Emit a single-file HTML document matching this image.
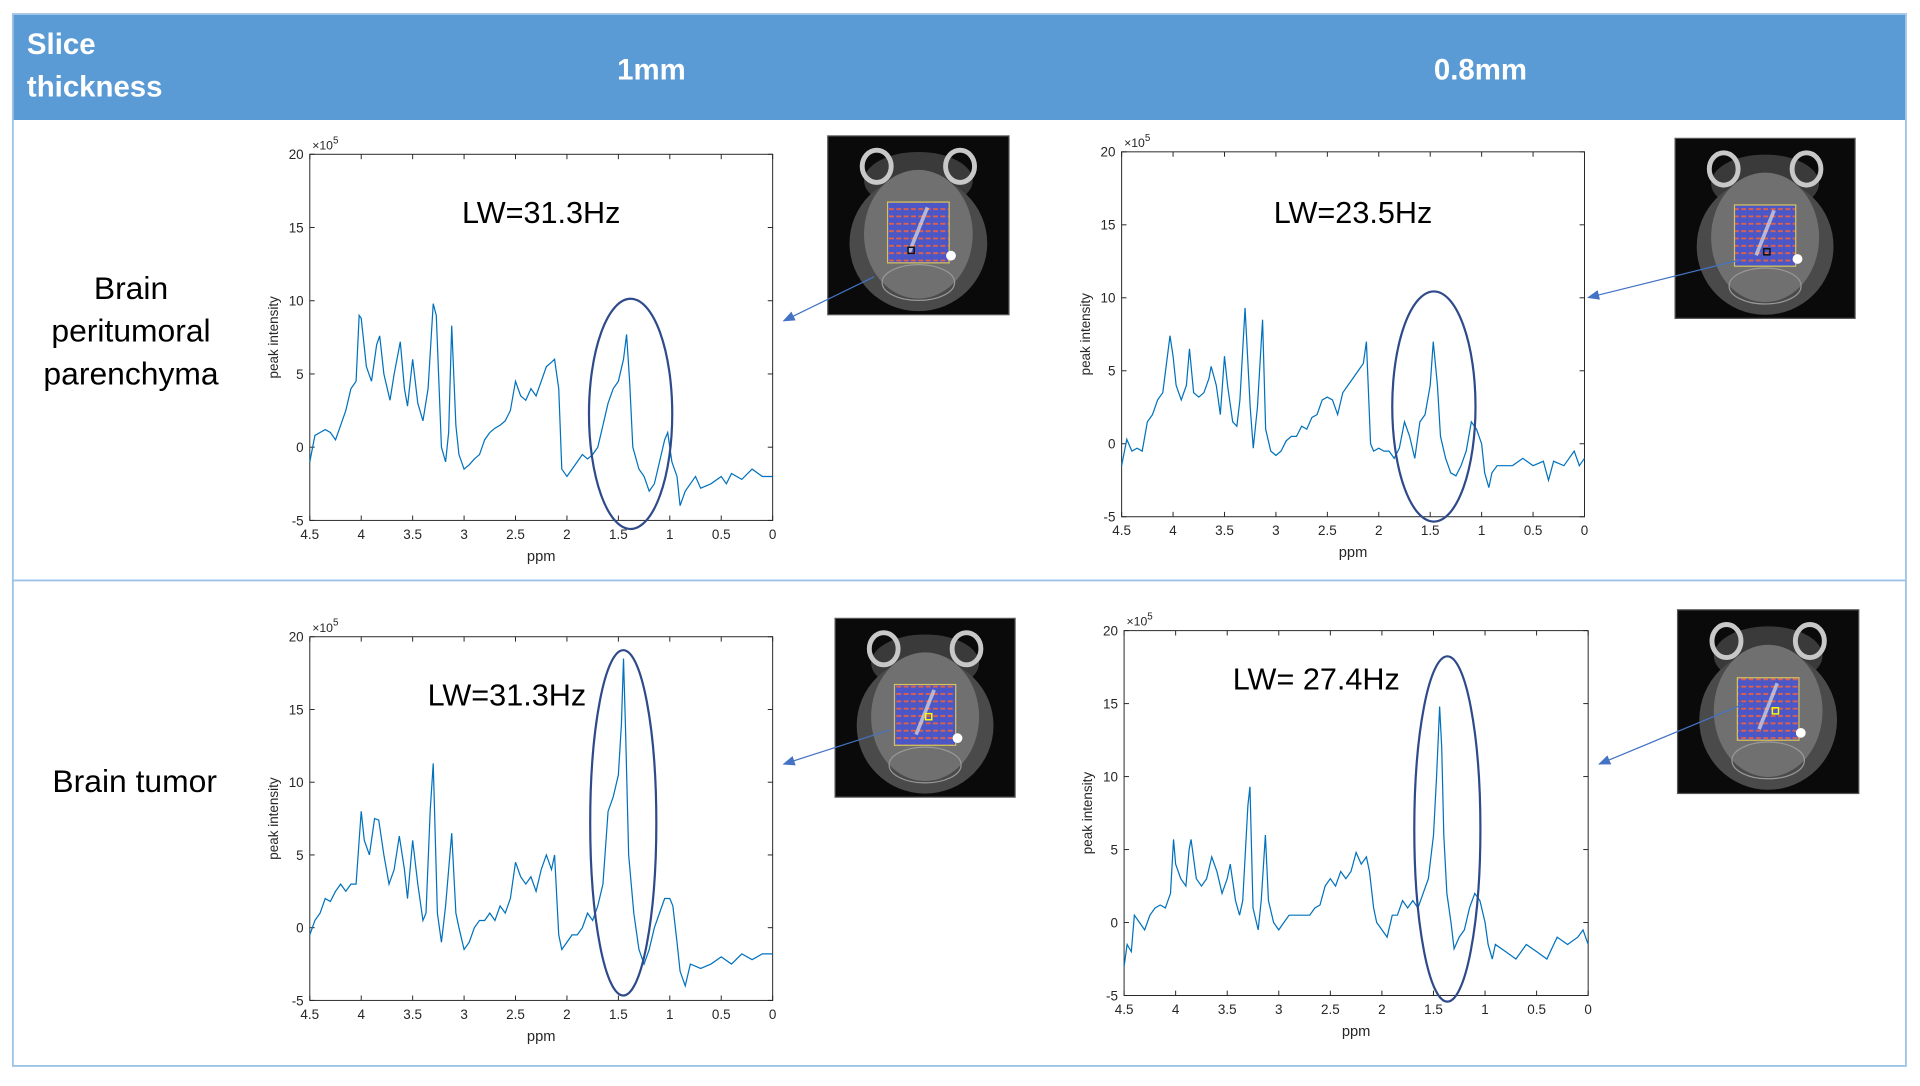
<!DOCTYPE html>
<html><head><meta charset="utf-8">
<style>
html,body{margin:0;padding:0;background:#fff;}
body{width:1920px;height:1080px;overflow:hidden;position:relative;font-family:"Liberation Sans",sans-serif;}
#wrap{position:absolute;left:0;top:0;width:1568px;height:882px;transform:scale(1.22449,1.2245);transform-origin:0 0;}
</style></head>
<body>
<div id="wrap">
<svg id="svg" width="1568" height="882" viewBox="0 0 1568 882" xmlns="http://www.w3.org/2000/svg">
<defs>
<pattern id="grid" width="6" height="6" patternUnits="userSpaceOnUse">
<rect width="6" height="6" fill="#4b57c6"/>
<rect x="0" y="2" width="4" height="1.5" fill="#e0604a"/>
</pattern>
<marker id="arr" markerWidth="10" markerHeight="8" refX="9" refY="4" orient="auto" markerUnits="userSpaceOnUse">
<path d="M0,0 L10,4 L0,8 z" fill="#4472c4"/>
</marker>
</defs>
<rect x="10" y="11" width="1547" height="87" fill="#5b9bd5"/>
<text x="22" y="44" fill="#fff" font-size="24" font-weight="bold" font-family="Liberation Sans, sans-serif">Slice</text>
<text x="22" y="79" fill="#fff" font-size="24" font-weight="bold" font-family="Liberation Sans, sans-serif">thickness</text>
<text x="532" y="65" fill="#fff" font-size="24" font-weight="bold" text-anchor="middle" font-family="Liberation Sans, sans-serif">1mm</text>
<text x="1209" y="65" fill="#fff" font-size="24" font-weight="bold" text-anchor="middle" font-family="Liberation Sans, sans-serif">0.8mm</text>
<rect x="10.5" y="11.5" width="1546" height="859" fill="none" stroke="#9dc3e6" stroke-width="1.5"/>
<line x1="10" y1="474" x2="1557" y2="474" stroke="#9dc3e6" stroke-width="1.5"/>
<g font-size="26" text-anchor="middle" fill="#000" font-family="Liberation Sans, sans-serif">
<text x="107" y="244">Brain</text>
<text x="107" y="279">peritumoral</text>
<text x="107" y="314">parenchyma</text>
<text x="110" y="647">Brain tumor</text>
</g>
<g id="charts"></g>
</svg>
</div>
<script>
const xTicks=[4.5,4,3.5,3,2.5,2,1.5,1,0.5,0];
const xTickLabels=["4.5","4","3.5","3","2.5","2","1.5","1","0.5","0"];
const yTicks=[-5,0,5,10,15,20];
const yTickLabels=["-5","0","5","10","15","20"];

const ppmA=[4.5,4.45,4.4,4.35,4.3,4.25,4.2,4.15,4.1,4.05,4.02,4.0,3.95,3.9,3.85,3.82,3.78,3.72,3.68,3.62,3.58,3.55,3.5,3.45,3.4,3.35,3.3,3.27,3.22,3.18,3.15,3.12,3.08,3.05,3.0,2.95,2.9,2.85,2.8,2.75,2.7,2.65,2.6,2.55,2.5,2.45,2.4,2.35,2.3,2.25,2.2,2.15,2.12,2.08,2.05,2.0,1.95,1.9,1.85,1.8,1.75,1.7,1.65,1.6,1.55,1.5,1.45,1.42,1.39,1.36,1.3,1.25,1.2,1.15,1.1,1.05,1.02,0.98,0.93,0.9,0.85,0.8,0.75,0.7,0.6,0.5,0.45,0.4,0.3,0.2,0.1,0.0];
const valA=[-1,0.8,1.0,1.2,1.0,0.5,1.5,2.5,4.0,4.5,9.0,8.8,5.5,4.5,7.0,7.6,5.0,3.2,5.0,7.2,4.0,2.8,6.0,3.0,1.8,4.0,9.8,9.0,0,-1.0,1.0,8.3,1.5,-0.5,-1.5,-1.2,-0.8,-0.5,0.5,1.0,1.3,1.5,1.8,2.5,4.5,3.5,3.2,4.0,3.5,4.5,5.5,5.8,6.0,4.0,-1.5,-2.0,-1.5,-1.0,-0.5,-0.8,-0.5,0,1.5,3.0,4.0,4.5,6.0,7.7,4.5,0,-1.5,-2.0,-3.0,-2.5,-1.0,0.5,1.0,-1.0,-2.0,-4.0,-3.0,-2.5,-2.0,-2.8,-2.5,-2.0,-2.5,-1.8,-2.2,-1.5,-2.0,-2.0];

const ppmB=[4.5,4.45,4.4,4.35,4.3,4.25,4.2,4.15,4.1,4.03,4.0,3.97,3.92,3.87,3.84,3.8,3.75,3.7,3.65,3.63,3.58,3.54,3.5,3.47,3.42,3.38,3.35,3.3,3.25,3.22,3.18,3.13,3.1,3.05,3.0,2.95,2.9,2.85,2.8,2.75,2.7,2.65,2.6,2.55,2.5,2.45,2.4,2.35,2.3,2.25,2.2,2.15,2.12,2.08,2.05,2.0,1.95,1.9,1.85,1.8,1.75,1.7,1.65,1.6,1.55,1.5,1.47,1.43,1.4,1.35,1.3,1.25,1.2,1.15,1.1,1.05,1.0,0.97,0.93,0.9,0.85,0.8,0.7,0.6,0.5,0.4,0.35,0.3,0.2,0.1,0.05,0];
const valB=[-1.5,0.3,-0.5,-0.3,-0.5,1.5,2.0,3.0,3.5,7.4,6.0,4.0,3.0,4.0,6.5,3.5,3.2,3.5,4.5,5.3,4.0,2.0,6.0,4.0,1.5,1.2,3.0,9.3,2.5,-0.3,2.5,8.5,1.0,-0.5,-0.8,-0.5,0.2,0.5,0.5,1.2,1.0,1.8,2.0,3.0,3.2,3.0,2.0,3.5,4.0,4.5,5.0,5.5,7.0,0,-0.5,-0.3,-0.5,-0.5,-1.0,-0.3,1.5,0.5,-1.0,1.5,2.0,4.0,7.0,4.0,0.5,-1.0,-2.0,-2.2,-1.5,-0.5,1.5,1.0,0,-2.0,-3.0,-2.0,-1.5,-1.5,-1.5,-1.0,-1.5,-1.2,-2.5,-1.2,-1.5,-0.5,-1.5,-1.0];

const ppmC=[4.5,4.45,4.4,4.35,4.3,4.25,4.2,4.15,4.1,4.05,4.02,4.0,3.97,3.92,3.87,3.83,3.78,3.73,3.68,3.63,3.58,3.55,3.5,3.45,3.4,3.37,3.33,3.3,3.26,3.22,3.18,3.12,3.08,3.05,3.0,2.95,2.9,2.85,2.8,2.75,2.7,2.65,2.6,2.55,2.5,2.45,2.4,2.35,2.3,2.25,2.2,2.15,2.12,2.08,2.05,2.0,1.95,1.9,1.85,1.8,1.75,1.7,1.65,1.6,1.55,1.5,1.47,1.45,1.43,1.4,1.35,1.3,1.25,1.2,1.15,1.1,1.05,1.0,0.97,0.93,0.9,0.85,0.8,0.7,0.6,0.5,0.4,0.3,0.2,0.1,0];
const valC=[-0.5,0.5,1.0,2.0,1.8,2.5,3.0,2.5,3.0,3.0,6.0,8.0,6.0,5.0,7.5,7.4,5.0,3.0,4.0,6.3,4.0,2.0,6.0,3.0,0.5,1.0,8.0,11.3,1.0,-1.0,1.5,6.5,1.0,0,-1.5,-1.0,0,0.5,0.5,1.0,0.5,1.5,1.0,2.0,4.5,3.5,3.0,3.5,2.5,4.0,5.0,4.0,5.0,-0.5,-1.5,-1.0,-0.5,-0.5,0,1.0,0.5,1.5,3.0,8.0,9.0,10.5,14.0,18.5,13.5,5.0,1.0,-1.5,-2.5,-1.5,0,1.0,2.0,2.0,1.5,-1.0,-3.0,-4.0,-2.5,-2.8,-2.5,-2.0,-2.5,-1.8,-2.2,-1.8,-1.8];

const ppmD=[4.5,4.47,4.43,4.4,4.35,4.3,4.25,4.2,4.15,4.1,4.05,4.02,4.0,3.95,3.9,3.87,3.85,3.8,3.75,3.7,3.65,3.6,3.55,3.5,3.47,3.42,3.38,3.35,3.3,3.28,3.25,3.2,3.17,3.13,3.1,3.05,3.0,2.95,2.9,2.8,2.7,2.65,2.6,2.55,2.5,2.45,2.4,2.35,2.3,2.25,2.2,2.15,2.12,2.08,2.05,2.0,1.95,1.9,1.85,1.8,1.75,1.7,1.65,1.6,1.55,1.5,1.47,1.44,1.42,1.4,1.37,1.33,1.3,1.25,1.2,1.15,1.1,1.05,1.0,0.97,0.93,0.9,0.8,0.7,0.6,0.5,0.4,0.3,0.2,0.1,0.05,0];
const valD=[-3.0,-1.5,-2.0,0.5,0,-0.5,0.5,1.0,1.2,1.0,2.0,5.7,4.0,3.0,2.5,5.0,5.7,3.0,2.5,3.0,4.5,3.5,2.0,3.0,4.0,1.5,0.5,1.5,8.0,9.3,1.0,-0.5,1.5,6.0,1.5,0,-0.5,0,0.5,0.5,0.5,1.0,1.2,2.5,3.0,2.5,3.5,3.0,3.5,4.8,4.0,4.5,3.5,1.0,0,-0.5,-1.0,0.5,0.5,1.5,1.0,1.5,1.0,2.0,3.0,6.0,10.0,14.8,12.0,6.0,2.0,0,-1.8,-1.0,-0.5,1.0,2.0,1.5,0,-1.5,-2.5,-1.5,-2.0,-2.5,-1.5,-2.0,-2.5,-1.0,-1.5,-1.0,-0.5,-1.5];

const NS="http://www.w3.org/2000/svg";
const root=document.getElementById('charts');
function mk(tag,attrs,parent){const e=document.createElementNS(NS,tag);for(const k in attrs)e.setAttribute(k,attrs[k]);(parent||root).appendChild(e);return e;}

function chart(id,L,T,R,B,ppm,val,lw,lwx,lwy,ell,img,arrow){
  const g=mk('g',{});
  
  
  const xs=v=>L+(4.5-v)/4.5*(R-L);
  const ys=v=>B-(v+5)/25*(B-T);
  const frame=mk('rect',{x:L,y:T,width:R-L,height:B-T,fill:'#fff',stroke:'#262626','stroke-width':0.8},g);
  
  
  xTicks.forEach((t,i)=>{
    const x=xs(t);
    mk('line',{x1:x,y1:B,x2:x,y2:B-4,stroke:'#262626','stroke-width':0.8},g);
    mk('line',{x1:x,y1:T,x2:x,y2:T+4,stroke:'#262626','stroke-width':0.8},g);
    const tx=mk('text',{x:x,y:B+15,'font-size':11,'text-anchor':'middle',fill:'#262626','font-family':'Liberation Sans, sans-serif'},g);
    tx.textContent=xTickLabels[i];
    
    
  });
  yTicks.forEach((t,i)=>{
    const y=ys(t);
    mk('line',{x1:L,y1:y,x2:L+4,y2:y,stroke:'#262626','stroke-width':0.8},g);
    mk('line',{x1:R,y1:y,x2:R-4,y2:y,stroke:'#262626','stroke-width':0.8},g);
    const tx=mk('text',{x:L-5,y:y+4,'font-size':11,'text-anchor':'end',fill:'#262626','font-family':'Liberation Sans, sans-serif'},g);
    tx.textContent=yTickLabels[i];
    
    
  });
  const ex=mk('text',{x:L+2,y:T-4,'font-size':10,fill:'#262626','font-family':'Liberation Sans, sans-serif'},g);
  ex.innerHTML='×10<tspan dy="-5" font-size="8">5</tspan>';
  
  
  const yl=mk('text',{transform:`translate(${L-26},${(T+B)/2}) rotate(-90)`,'font-size':11,'text-anchor':'middle',fill:'#262626','font-family':'Liberation Sans, sans-serif'},g);
  yl.textContent='peak intensity';
  
  
  const xl=mk('text',{x:(L+R)/2,y:B+33,'font-size':12,'text-anchor':'middle',fill:'#262626','font-family':'Liberation Sans, sans-serif'},g);
  xl.textContent='ppm';
  
  
  let d='';
  ppm.forEach((p,i)=>{d+=(i?'L':'M')+xs(p).toFixed(1)+','+ys(val[i]).toFixed(1);});
  const line=mk('path',{d:d,fill:'none',stroke:'#0072bd','stroke-width':1},g);
  
  
  const lt=mk('text',{x:lwx,y:lwy,'font-size':25,'text-anchor':'middle',fill:'#000','font-family':'Liberation Sans, sans-serif'},g);
  lt.textContent=lw;
  
  
  const el=mk('ellipse',{cx:ell[0],cy:ell[1],rx:ell[2],ry:ell[3],fill:'none',stroke:'#2f4a8a','stroke-width':1.8},g);
  
  
  const [ix,iy,iw,ih,mc]=img;
  const bi=mk('g',{},g);
  
  
  mk('rect',{x:ix,y:iy,width:iw,height:ih,fill:'#0a0a0a',stroke:'#555','stroke-width':1},bi);
  mk('ellipse',{cx:ix+iw*0.5,cy:iy+ih*0.25,rx:iw*0.3,ry:ih*0.16,fill:'#3a3a3a'},bi);
  mk('ellipse',{cx:ix+iw*0.5,cy:iy+ih*0.6,rx:iw*0.38,ry:ih*0.38,fill:'#4a4a4a'},bi);
  mk('ellipse',{cx:ix+iw*0.5,cy:iy+ih*0.55,rx:iw*0.3,ry:ih*0.36,fill:'#707070'},bi);
  mk('ellipse',{cx:ix+iw*0.5,cy:iy+ih*0.82,rx:iw*0.2,ry:ih*0.1,fill:'none',stroke:'#999','stroke-width':1},bi);
  [0.27,0.73].forEach(f=>mk('ellipse',{cx:ix+iw*f,cy:iy+ih*0.17,rx:iw*0.08,ry:ih*0.09,fill:'none',stroke:'#c8c8c8','stroke-width':4},bi));
  mk('rect',{x:ix+iw*0.33,y:iy+ih*0.37,width:iw*0.34,height:ih*0.34,fill:'url(#grid)',stroke:'#d6c45a','stroke-width':1},bi);
  mk('path',{d:`M${ix+iw*0.55},${iy+ih*0.4} L${ix+iw*0.45},${iy+ih*0.65}`,stroke:'#ddd','stroke-width':3,opacity:0.7},bi);
  mk('circle',{cx:ix+iw*0.68,cy:iy+ih*0.67,r:4,fill:'#fff'},bi);
  mk('rect',{x:ix+iw*mc[0]-2.5,y:iy+ih*mc[1]-2.5,width:5,height:5,fill:'none',stroke:mc[2],'stroke-width':1.2},bi);
  const ar=mk('line',{x1:arrow[0],y1:arrow[1],x2:arrow[2],y2:arrow[3],stroke:'#4472c4','stroke-width':1,'marker-end':'url(#arr)'},g);
  
  
}
chart('chart-1mm-peritumoral',253,126,631,425,ppmA,valA,'LW=31.3Hz',442,182,[515,338,34,94],[676,111,148,146,[0.46,0.64,'#111']],[714,226,640,262]);
chart('chart-0.8mm-peritumoral',916,124,1294,422,ppmB,valB,'LW=23.5Hz',1105,182,[1171,332,34,94],[1368,113,147,147,[0.51,0.63,'#111']],[1422,212,1297,243]);
chart('chart-1mm-tumor',253,520,631,817,ppmC,valC,'LW=31.3Hz',414,576,[509,672,27,141],[682,505,147,146,[0.52,0.55,'#ff0']],[727,596,640,624]);
chart('chart-0.8mm-tumor',918,515,1297,813,ppmD,valD,'LW= 27.4Hz',1075,563,[1182,677,27,141],[1370,498,148,150,[0.54,0.55,'#ff0']],[1424,575,1306,624]);
</script>
</body></html>
